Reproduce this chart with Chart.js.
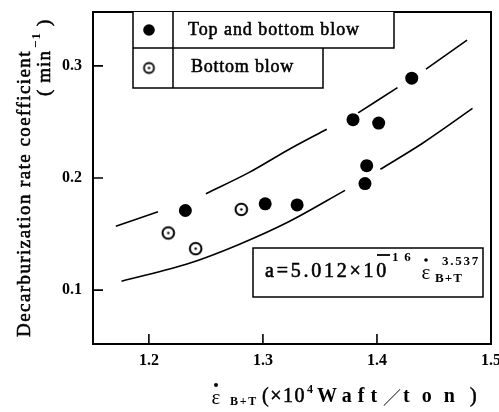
<!DOCTYPE html>
<html><head><meta charset="utf-8">
<script src="https://cdn.jsdelivr.net/npm/chart.js@4/dist/chart.umd.min.js"></script>
<style>html,body{margin:0;padding:0;background:#fff}#wrap{width:499px;height:412px;position:relative}</style>
</head><body><div id="wrap"><canvas id="c"></canvas></div>
<script>
const xTickValues=[1.2,1.3,1.4,1.5];
const yTickValues=[0.1,0.2,0.3];
const topBottomX=[1.232,1.302,1.330,1.379,1.3895,1.391,1.4015,1.4305];
const topBottomY=[0.171,0.177,0.176,0.252,0.195,0.211,0.249,0.289];
const bottomX=[1.217,1.241,1.281];
const bottomY=[0.151,0.137,0.172];
const upperX=[1.171,1.208,1.229,1.250,1.288,1.322,1.356,1.370,1.3835,1.418,1.430,1.443,1.479];
const upperY=[0.157,0.170,null,0.186,0.205,0.225,0.2435,null,0.258,0.2806,null,0.297,0.323];
const lowerX=[1.176,1.2355,1.279,1.3226,1.372,1.388,1.403,1.440,1.4838];
const lowerY=[0.108,0.124,0.1408,0.161,0.189,null,0.2078,0.231,0.262];
const legendLabels=["Top and bottom blow","Bottom blow"];

const SERIF='"Liberation Serif","DejaVu Serif",serif';
function pts(xs,ys){return xs.map((x,i)=>({x:x,y:ys[i]}));}
function openMarker(r,lw){const s=Math.ceil(r*2+5);const c=document.createElement('canvas');c.width=s;c.height=s;const g=c.getContext('2d');g.fillStyle='#fff';g.strokeStyle='#000';g.lineWidth=lw;g.beginPath();g.arc(s/2,s/2,r,0,Math.PI*2);g.fill();g.stroke();g.fillStyle='#000';g.beginPath();g.arc(s/2,s/2,1.2,0,Math.PI*2);g.fill();return c;}
const openImg=openMarker(5.8,2);
const openImgSmall=openMarker(5,1.8);

function fitText(ctx,text,x,y,width,align,heavy){
  ctx.letterSpacing='0px';
  const w=ctx.measureText(text).width;
  let ls=(width-w)/Math.max(1,text.length);
  ctx.letterSpacing=ls+'px';
  ctx.textAlign=align||'left';
  ctx.fillText(text,x,y);
  if(heavy!==false){ctx.lineWidth=0.55;ctx.strokeText(text,x,y);}
  ctx.letterSpacing='0px';
}

const deco={id:'deco',afterDraw(chart){
  const ctx=chart.ctx, a=chart.chartArea, xs=chart.scales.x, ys=chart.scales.y;
  ctx.save();
  ctx.strokeStyle='#000';ctx.fillStyle='#000';
  ctx.lineWidth=2;ctx.strokeRect(a.left,a.top,a.right-a.left,a.bottom-a.top);
  ctx.lineWidth=1.6;ctx.beginPath();
  yTickValues.forEach(v=>{const y=ys.getPixelForValue(v);ctx.moveTo(a.left,y);ctx.lineTo(a.left+10,y);});
  xTickValues.forEach(v=>{const x=xs.getPixelForValue(v);ctx.moveTo(x,a.bottom);ctx.lineTo(x,a.bottom-10);});
  ctx.stroke();
  // legend table
  ctx.fillStyle='#fff';
  ctx.fillRect(133,12,261,36);ctx.fillRect(133,48,190,40);
  ctx.fillStyle='#000';ctx.lineWidth=1.5;ctx.beginPath();
  ctx.moveTo(133,12);ctx.lineTo(133,88);ctx.lineTo(323,88);ctx.lineTo(323,48);
  ctx.moveTo(133,48);ctx.lineTo(394,48);ctx.lineTo(394,12);
  ctx.moveTo(173,12);ctx.lineTo(173,88);
  ctx.stroke();
  ctx.beginPath();ctx.arc(149,30,5.8,0,Math.PI*2);ctx.fill();
  ctx.drawImage(openImgSmall,149-openImgSmall.width/2,68-openImgSmall.height/2);
  ctx.font='18px '+SERIF;ctx.textBaseline='middle';
  fitText(ctx,legendLabels[0],188,30,172);
  fitText(ctx,legendLabels[1],191,67,103);
  // equation box
  ctx.fillStyle='#fff';ctx.fillRect(253,248,230,49);ctx.fillStyle='#000';
  ctx.lineWidth=1.5;ctx.strokeRect(253,248,230,49);
  ctx.font='20px '+SERIF;ctx.textBaseline='middle';
  fitText(ctx,'a=5.012×10',265,272,124);
  ctx.lineWidth=1.8;ctx.beginPath();ctx.moveTo(377,255);ctx.lineTo(390,255);ctx.stroke();
  ctx.font='bold 13px '+SERIF;
  fitText(ctx,'1 6',392,258,20,'left',false);
  ctx.font='21px '+SERIF;ctx.textAlign='center';ctx.fillText('ε',426,273);
  ctx.beginPath();ctx.arc(426,260,1.8,0,Math.PI*2);ctx.fill();
  ctx.font='bold 13px '+SERIF;
  fitText(ctx,'B+T',435,279,28,'left',false);
  fitText(ctx,'3.537',442,262,38,'left',false);
  // y axis title
  ctx.save();ctx.translate(25,193);ctx.rotate(-Math.PI/2);
  ctx.font='19px '+SERIF;ctx.textBaseline='middle';
  fitText(ctx,'Decarburization rate coefficient',-144,0,287);
  ctx.restore();
  ctx.save();ctx.translate(43,58);ctx.rotate(-Math.PI/2);
  ctx.font='19px '+SERIF;ctx.textBaseline='middle';
  fitText(ctx,'( min',-38,2,46);
  ctx.font='bold 13px '+SERIF;fitText(ctx,'−1',10,-6,16,'left',false);
  ctx.font='19px '+SERIF;fitText(ctx,')',32,2,6);
  ctx.restore();
  // x axis title
  ctx.font='21px '+SERIF;ctx.textBaseline='middle';ctx.textAlign='center';
  ctx.fillText('ε',216,398);
  ctx.beginPath();ctx.arc(216,385,2,0,Math.PI*2);ctx.fill();
  ctx.font='bold 12px '+SERIF;fitText(ctx,'B+T',230,402,28,'left',false);
  ctx.font='20px '+SERIF;fitText(ctx,'(×10',262,397,44);
  ctx.font='bold 12px '+SERIF;fitText(ctx,'4',307,390,6,'left',false);
  ctx.font='bold 20px '+SERIF;fitText(ctx,'Waft',317,397,66,'left',false);
  ctx.font='18px "Noto Sans CJK JP",sans-serif';fitText(ctx,'／',383,397,17,'left',false);
  ctx.font='bold 20px '+SERIF;fitText(ctx,'ton',403,397,64,'left',false);
  ctx.font='20px '+SERIF;fitText(ctx,')',470,397,7);
  ctx.restore();
}};

new Chart(document.getElementById('c'),{
  type:'scatter',
  data:{datasets:[
    {label:'upper',data:pts(upperX,upperY),showLine:true,spanGaps:false,borderColor:'#000',borderWidth:1.6,pointRadius:0,cubicInterpolationMode:'monotone'},
    {label:'lower',data:pts(lowerX,lowerY),showLine:true,spanGaps:false,borderColor:'#000',borderWidth:1.6,pointRadius:0,cubicInterpolationMode:'monotone'},
    {label:legendLabels[0],data:pts(topBottomX,topBottomY),pointRadius:6.5,pointBackgroundColor:'#000',pointBorderColor:'#000',borderWidth:0},
    {label:legendLabels[1],data:pts(bottomX,bottomY),pointStyle:openImg,pointRadius:6}
  ]},
  options:{
    responsive:true,maintainAspectRatio:false,animation:false,
    layout:{padding:{left:0,top:12,right:8,bottom:0}},
    plugins:{legend:{display:false},tooltip:{enabled:false}},
    scales:{
      x:{type:'linear',min:1.151,max:1.5,
        afterFit(s){s.height=68;s.paddingLeft=0;s.paddingRight=0;},
        afterBuildTicks(s){s.ticks=xTickValues.map(v=>({value:v}));},
        grid:{display:false,drawTicks:false},border:{display:false},
        ticks:{padding:7,color:'#000',font:{family:SERIF,size:16,weight:'bold'},callback:v=>v.toFixed(1),maxRotation:0,autoSkip:false}},
      y:{type:'linear',min:0.052,max:0.348,
        afterFit(s){s.width=93;s.paddingTop=0;s.paddingBottom=0;},
        afterBuildTicks(s){s.ticks=yTickValues.map(v=>({value:v}));},
        grid:{display:false,drawTicks:false},border:{display:false},
        ticks:{padding:11,color:'#000',font:{family:SERIF,size:16,weight:'bold'},callback:v=>v.toFixed(1),autoSkip:false}}
    }
  },
  plugins:[deco]
});
</script></body></html>
